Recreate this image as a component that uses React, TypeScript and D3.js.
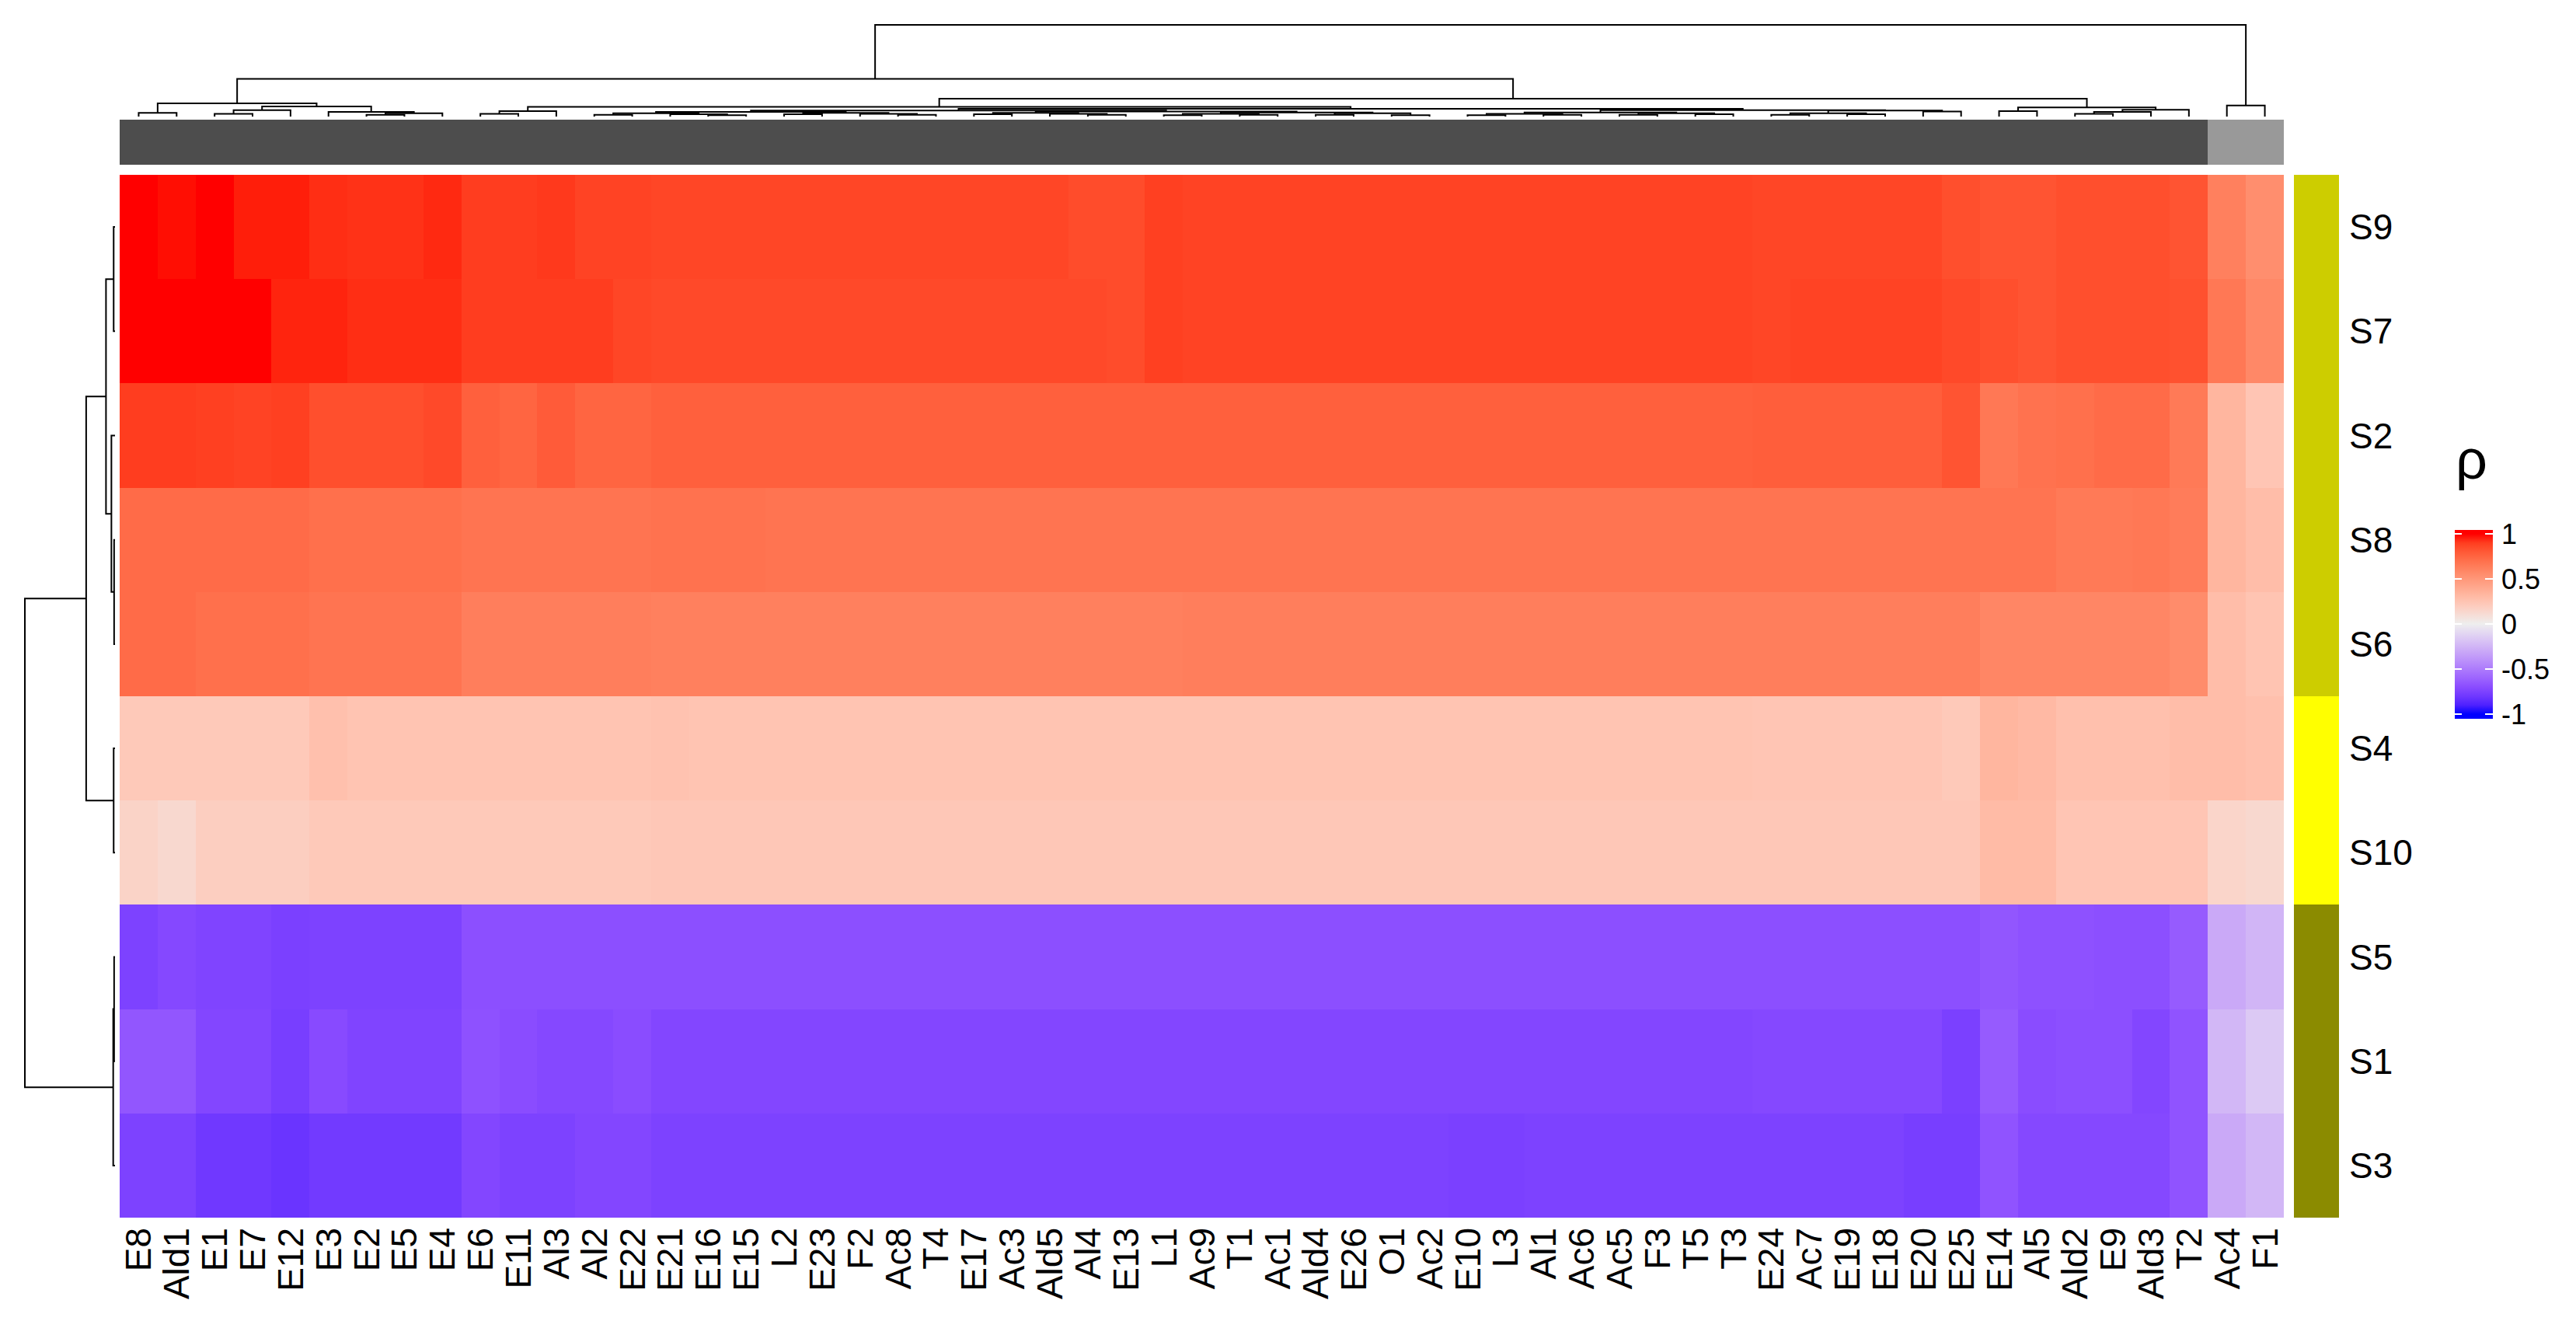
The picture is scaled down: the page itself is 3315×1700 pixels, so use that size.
import React, { useEffect, useRef } from "react";
import * as d3 from "d3";

// Canvas and panel positions
const width = 3315;
const height = 1700;
const heat = { left: 154, right: 2939, top: 225, bottom: 1567 };
const font = "'Liberation Sans', Arial, sans-serif";

// Column order (after clustering)
const columns = [
  "E8", "Ald1", "E1", "E7", "E12", "E3", "E2", "E5", "E4", "E6",
  "E11", "Al3", "Al2", "E22", "E21", "E16", "E15", "L2", "E23", "F2",
  "Ac8", "T4", "E17", "Ac3", "Ald5", "Al4", "E13", "L1", "Ac9", "T1",
  "Ac1", "Ald4", "E26", "O1", "Ac2", "E10", "L3", "Al1", "Ac6", "Ac5",
  "F3", "T5", "T3", "E24", "Ac7", "E19", "E18", "E20", "E25", "E14",
  "Al5", "Ald2", "E9", "Ald3", "T2", "Ac4", "F1",
];

// Row order (after clustering)
const rows = ["S9", "S7", "S2", "S8", "S6", "S4", "S10", "S5", "S1", "S3"];

// Column cluster annotation: these two columns form the second cluster
const columnClusterB = ["Ac4", "F1"];
const columnClusterColors = { A: "#4D4D4D", B: "#999999" };

// Row cluster annotation
const rowCluster = ["g1", "g1", "g1", "g1", "g1", "g2", "g2", "g3", "g3", "g3"];
const rowClusterColors = { g1: "#CDCD00", g2: "#FFFF00", g3: "#8B8B00" };

// Color ramp stops for rho
const colorStops = [-1, -0.7, 0, 1];
const colorValues = ["#0000FF", "#8A4CFF", "#EEEEEE", "#FF0000"];

// Correlation values, one list per row, in column order
const rhoS9 = [
  1.00, 0.99, 1.00, 0.97, 0.97, 0.94, 0.93, 0.93, 0.95, 0.90,
  0.90, 0.91, 0.88, 0.88, 0.87, 0.87, 0.87, 0.87, 0.87, 0.87,
  0.87, 0.87, 0.87, 0.87, 0.87, 0.85, 0.85, 0.89, 0.88, 0.88,
  0.88, 0.88, 0.88, 0.88, 0.88, 0.88, 0.88, 0.88, 0.88, 0.88,
  0.88, 0.88, 0.88, 0.87, 0.87, 0.87, 0.87, 0.87, 0.84, 0.82,
  0.82, 0.84, 0.84, 0.84, 0.82, 0.62, 0.55,
];
const rhoS7 = [
  1.00, 1.00, 1.00, 1.00, 0.96, 0.96, 0.94, 0.94, 0.94, 0.90,
  0.90, 0.90, 0.90, 0.87, 0.86, 0.86, 0.86, 0.86, 0.86, 0.86,
  0.86, 0.86, 0.86, 0.86, 0.86, 0.86, 0.85, 0.89, 0.88, 0.88,
  0.88, 0.88, 0.88, 0.88, 0.88, 0.88, 0.88, 0.88, 0.88, 0.88,
  0.88, 0.88, 0.88, 0.87, 0.88, 0.88, 0.88, 0.88, 0.86, 0.84,
  0.82, 0.84, 0.84, 0.84, 0.83, 0.66, 0.58,
];
const rhoS2 = [
  0.90, 0.90, 0.89, 0.88, 0.89, 0.84, 0.84, 0.84, 0.86, 0.77,
  0.75, 0.79, 0.75, 0.75, 0.77, 0.77, 0.77, 0.77, 0.77, 0.77,
  0.77, 0.77, 0.77, 0.77, 0.77, 0.77, 0.77, 0.77, 0.77, 0.77,
  0.77, 0.77, 0.77, 0.77, 0.77, 0.77, 0.77, 0.77, 0.77, 0.77,
  0.77, 0.77, 0.77, 0.78, 0.78, 0.78, 0.78, 0.78, 0.82, 0.66,
  0.69, 0.70, 0.72, 0.72, 0.65, 0.33, 0.24,
];
const rhoS8 = [
  0.72, 0.72, 0.72, 0.72, 0.72, 0.70, 0.70, 0.70, 0.70, 0.68,
  0.68, 0.68, 0.68, 0.68, 0.69, 0.69, 0.69, 0.68, 0.68, 0.68,
  0.68, 0.68, 0.68, 0.68, 0.68, 0.68, 0.68, 0.68, 0.68, 0.68,
  0.68, 0.68, 0.68, 0.68, 0.68, 0.68, 0.68, 0.68, 0.68, 0.68,
  0.68, 0.68, 0.68, 0.68, 0.68, 0.68, 0.68, 0.68, 0.68, 0.68,
  0.68, 0.65, 0.65, 0.66, 0.64, 0.33, 0.29,
];
const rhoS6 = [
  0.72, 0.72, 0.70, 0.70, 0.70, 0.68, 0.68, 0.68, 0.68, 0.63,
  0.63, 0.63, 0.63, 0.63, 0.62, 0.62, 0.62, 0.62, 0.62, 0.62,
  0.62, 0.62, 0.62, 0.62, 0.62, 0.62, 0.62, 0.62, 0.63, 0.63,
  0.63, 0.63, 0.63, 0.63, 0.63, 0.63, 0.63, 0.63, 0.63, 0.63,
  0.63, 0.63, 0.63, 0.63, 0.63, 0.63, 0.63, 0.63, 0.63, 0.59,
  0.59, 0.59, 0.59, 0.59, 0.56, 0.29, 0.25,
];
const rhoS4 = [
  0.22, 0.22, 0.22, 0.22, 0.22, 0.27, 0.25, 0.25, 0.25, 0.25,
  0.25, 0.25, 0.25, 0.25, 0.26, 0.25, 0.25, 0.25, 0.25, 0.25,
  0.25, 0.25, 0.25, 0.25, 0.25, 0.25, 0.25, 0.25, 0.25, 0.25,
  0.25, 0.25, 0.25, 0.25, 0.25, 0.25, 0.25, 0.25, 0.25, 0.25,
  0.25, 0.25, 0.25, 0.24, 0.24, 0.24, 0.24, 0.24, 0.22, 0.33,
  0.31, 0.27, 0.27, 0.27, 0.29, 0.29, 0.27,
];
const rhoS10 = [
  0.16, 0.13, 0.19, 0.19, 0.19, 0.22, 0.22, 0.22, 0.22, 0.22,
  0.22, 0.22, 0.22, 0.22, 0.23, 0.23, 0.23, 0.23, 0.23, 0.23,
  0.23, 0.23, 0.23, 0.23, 0.23, 0.23, 0.23, 0.23, 0.23, 0.23,
  0.23, 0.23, 0.23, 0.23, 0.23, 0.23, 0.23, 0.23, 0.23, 0.23,
  0.23, 0.23, 0.23, 0.23, 0.23, 0.23, 0.23, 0.23, 0.23, 0.30,
  0.30, 0.24, 0.24, 0.24, 0.24, 0.15, 0.13,
];
const rhoS5 = [
  -0.75, -0.72, -0.74, -0.74, -0.76, -0.75, -0.75, -0.75, -0.75, -0.69,
  -0.69, -0.69, -0.69, -0.69, -0.69, -0.69, -0.69, -0.69, -0.69, -0.69,
  -0.69, -0.69, -0.69, -0.69, -0.69, -0.69, -0.69, -0.69, -0.69, -0.69,
  -0.69, -0.69, -0.69, -0.69, -0.69, -0.69, -0.69, -0.69, -0.69, -0.69,
  -0.69, -0.69, -0.69, -0.69, -0.69, -0.69, -0.69, -0.69, -0.69, -0.66,
  -0.68, -0.68, -0.69, -0.69, -0.64, -0.30, -0.25,
];
const rhoS1 = [
  -0.66, -0.66, -0.73, -0.73, -0.77, -0.71, -0.74, -0.74, -0.74, -0.68,
  -0.70, -0.72, -0.72, -0.70, -0.73, -0.73, -0.73, -0.73, -0.73, -0.73,
  -0.73, -0.73, -0.73, -0.73, -0.73, -0.73, -0.73, -0.73, -0.73, -0.73,
  -0.73, -0.73, -0.73, -0.73, -0.73, -0.73, -0.73, -0.73, -0.73, -0.73,
  -0.73, -0.73, -0.73, -0.72, -0.72, -0.72, -0.72, -0.72, -0.76, -0.64,
  -0.70, -0.69, -0.69, -0.73, -0.67, -0.24, -0.16,
];
const rhoS3 = [
  -0.75, -0.75, -0.80, -0.80, -0.82, -0.79, -0.79, -0.79, -0.79, -0.73,
  -0.75, -0.75, -0.73, -0.73, -0.75, -0.75, -0.75, -0.75, -0.75, -0.75,
  -0.75, -0.75, -0.75, -0.75, -0.75, -0.75, -0.75, -0.75, -0.75, -0.75,
  -0.75, -0.75, -0.75, -0.75, -0.75, -0.76, -0.76, -0.75, -0.75, -0.75,
  -0.75, -0.75, -0.75, -0.75, -0.75, -0.75, -0.75, -0.77, -0.77, -0.67,
  -0.72, -0.72, -0.72, -0.72, -0.67, -0.30, -0.24,
];
const rowValues = [rhoS9, rhoS7, rhoS2, rhoS8, rhoS6, rhoS4, rhoS10, rhoS5, rhoS1, rhoS3];

// Dendrograms as nested [height, left, right]; leaves are names
const columnTree = [1.0,
  [0.41,
    [0.144,
      [0.04, "E8", "Ald1"],
      [0.11,
        [0.07, [0.03, "E1", "E7"], "E12"],
        [0.05, "E3", [0.035, [0.02, "E2", "E5"], "E4"]]]],
    [0.195,
      [0.105,
        [0.06, [0.03, "E6", "E11"], "Al3"],
        [0.085,
          [0.065,
            [0.05,
              [0.035, [0.02, "Al2", "E22"], [0.025, "E21", [0.015, "E16", "E15"]]],
              [0.04, [0.025, "L2", "E23"], [0.03, "F2", [0.02, "Ac8", "T4"]]]],
            [0.055,
              [0.04, [0.025, "E17", "Ac3"], [0.03, "Ald5", [0.02, "Al4", "E13"]]],
              [0.045,
                [0.03, [0.015, "L1", "Ac9"], [0.02, "T1", "Ac1"]],
                [0.035, [0.02, "Ald4", "E26"], [0.015, "O1", "Ac2"]]]]],
          [0.07,
            [0.045,
              [0.03, [0.015, "E10", "L3"], [0.02, "Al1", "Ac6"]],
              [0.035, [0.02, "Ac5", "F3"], [0.025, "T5", "T3"]]],
            [0.065,
              [0.035, [0.02, "E24", "Ac7"], [0.025, "E19", "E18"]],
              [0.055, "E20", "E25"]]]]],
      [0.10,
        [0.06, "E14", "Al5"],
        [0.075, [0.05, [0.03, "Ald2", "E9"], "Ald3"], "T2"]]]],
  [0.12, "Ac4", "F1"]];

const rowTree = [1.0,
  [0.32,
    [0.10,
      [0.015, "S9", "S7"],
      [0.04, "S2", [0.01, "S8", "S6"]]],
    [0.015, "S4", "S10"]],
  [0.02, [0.01, "S5", "S1"], "S3"]];

// Legend breaks
const legendBreaks = [1, 0.5, 0, -0.5, -1];

function layoutTree(tree, leafPos) {
  const root = d3.hierarchy(tree, (d) => (Array.isArray(d) ? d.slice(1) : null));
  root.eachAfter((n) => {
    if (n.children) {
      n.pos = (n.children[0].pos + n.children[1].pos) / 2;
      n.h = n.data[0];
    } else {
      n.pos = leafPos(n.data);
      n.h = 0;
    }
  });
  return root;
}

function App() {
  const chartElement = useRef(null);

  useEffect(() => {
    const svg = d3.select(chartElement.current);
    svg.selectAll("*").remove();

    svg.append("rect").attr("width", width).attr("height", height).attr("fill", "#fff");

    const xScale = d3.scaleBand().domain(columns).range([heat.left, heat.right]);
    const yScale = d3.scaleBand().domain(rows).range([heat.top, heat.bottom]);
    const color = d3.scaleLinear()
      .domain(colorStops)
      .range(colorValues)
      .interpolate(d3.interpolateLab)
      .clamp(true);

    // Heatmap cells
    const cells = [];
    rows.forEach((r, i) => columns.forEach((c, j) => cells.push({ r, c, v: rowValues[i][j] })));
    svg.append("g")
      .attr("shape-rendering", "crispEdges")
      .selectAll("rect")
      .data(cells)
      .enter().append("rect")
      .attr("x", (d) => xScale(d.c))
      .attr("y", (d) => yScale(d.r))
      .attr("width", xScale.bandwidth() + 0.3)
      .attr("height", yScale.bandwidth() + 0.3)
      .attr("fill", (d) => color(d.v));

    // Column cluster bar
    svg.append("g")
      .attr("shape-rendering", "crispEdges")
      .selectAll("rect")
      .data(columns)
      .enter().append("rect")
      .attr("x", (d) => xScale(d))
      .attr("y", 154)
      .attr("width", xScale.bandwidth() + 0.3)
      .attr("height", 58)
      .attr("fill", (d) => (columnClusterB.includes(d) ? columnClusterColors.B : columnClusterColors.A));

    // Row cluster bar
    svg.append("g")
      .attr("shape-rendering", "crispEdges")
      .selectAll("rect")
      .data(rows)
      .enter().append("rect")
      .attr("x", 2952)
      .attr("y", (d) => yScale(d))
      .attr("width", 58)
      .attr("height", yScale.bandwidth() + 0.3)
      .attr("fill", (d, i) => rowClusterColors[rowCluster[i]]);

    // Column dendrogram (top)
    const colH = d3.scaleLinear().domain([0, 1]).range([150, 32]);
    const colRoot = layoutTree(columnTree, (name) => xScale(name) + xScale.bandwidth() / 2);
    const colLinks = colRoot.descendants().filter((n) => n.children).map((n) => {
      const [a, b] = n.children;
      return `M${a.pos},${colH(a.h)}V${colH(n.h)}H${b.pos}V${colH(b.h)}`;
    });
    svg.append("g")
      .selectAll("path")
      .data(colLinks)
      .enter().append("path")
      .attr("d", (d) => d)
      .attr("fill", "none")
      .attr("stroke", "#000")
      .attr("stroke-width", 2);

    // Row dendrogram (left)
    const rowH = d3.scaleLinear().domain([0, 1]).range([148, 32]);
    const rowRoot = layoutTree(rowTree, (name) => yScale(name) + yScale.bandwidth() / 2);
    const rowLinks = rowRoot.descendants().filter((n) => n.children).map((n) => {
      const [a, b] = n.children;
      return `M${rowH(a.h)},${a.pos}H${rowH(n.h)}V${b.pos}H${rowH(b.h)}`;
    });
    svg.append("g")
      .selectAll("path")
      .data(rowLinks)
      .enter().append("path")
      .attr("d", (d) => d)
      .attr("fill", "none")
      .attr("stroke", "#000")
      .attr("stroke-width", 2);

    // Row labels
    svg.append("g")
      .selectAll("text")
      .data(rows)
      .enter().append("text")
      .attr("x", 3023)
      .attr("y", (d) => yScale(d) + yScale.bandwidth() / 2)
      .attr("dominant-baseline", "central")
      .attr("font-family", font)
      .attr("font-size", 46)
      .text((d) => d);

    // Column labels
    svg.append("g")
      .selectAll("text")
      .data(columns)
      .enter().append("text")
      .attr("transform", (d) => `translate(${xScale(d) + xScale.bandwidth() / 2},1580) rotate(-90)`)
      .attr("text-anchor", "end")
      .attr("dominant-baseline", "central")
      .attr("font-family", font)
      .attr("font-size", 46)
      .text((d) => d);

    // Legend
    const legendY = d3.scaleLinear().domain([-1, 1]).range([919, 687]);
    const grad = svg.append("defs").append("linearGradient")
      .attr("id", "rhoGrad")
      .attr("gradientUnits", "userSpaceOnUse")
      .attr("x1", 0).attr("x2", 0)
      .attr("y1", legendY(1)).attr("y2", legendY(-1));
    d3.range(0, 1.0001, 0.05).forEach((t) => {
      grad.append("stop").attr("offset", t).attr("stop-color", color(1 - 2 * t));
    });
    const legend = svg.append("g");
    legend.append("rect")
      .attr("x", 3159).attr("y", 682)
      .attr("width", 49).attr("height", 243)
      .attr("fill", "url(#rhoGrad)");
    legend.selectAll(".tick-l")
      .data(legendBreaks)
      .enter().append("path")
      .attr("d", (d) => `M3159,${legendY(d)}h9M3198,${legendY(d)}h10`)
      .attr("stroke", "#fff")
      .attr("stroke-width", 2);
    legend.selectAll("text")
      .data(legendBreaks)
      .enter().append("text")
      .attr("x", 3219)
      .attr("y", (d) => legendY(d))
      .attr("dominant-baseline", "central")
      .attr("font-family", font)
      .attr("font-size", 36)
      .text((d) => String(d));
    legend.append("text")
      .attr("x", 3160)
      .attr("y", 616)
      .attr("font-family", font)
      .attr("font-size", 72)
      .text("ρ");
  }, []);

  return (
    <svg
      ref={chartElement}
      width={width}
      height={height}
      style={{ position: "absolute", left: 0, top: 0 }}
    />
  );
}

export default App;
